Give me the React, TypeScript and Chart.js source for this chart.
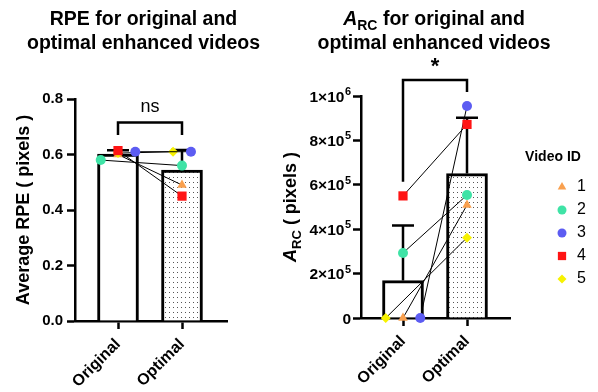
import React, { useEffect, useRef } from 'react';
import { Chart, registerables } from 'chart.js';
import { drawPoint } from 'chart.js/helpers';

Chart.register(...registerables);

const FONT = '"Liberation Sans", Arial, Helvetica, sans-serif';

// ---------- data ----------
const categories = ['Original', 'Optimal'];
const videoIds = ['1', '2', '3', '4', '5'];
const videoColors = ['#F9A04E', '#3FE3A6', '#5C5CF2', '#FF1414', '#F7F200'];
const videoStyles = ['triangle', 'circle', 'circle', 'rect', 'rectRot'];
const videoRadius = [5.5, 5, 5, 6.5, 5];

// Average RPE (pixels)
const rpeOriginal = [0.60, 0.58, 0.61, 0.614, 0.605];
const rpeOptimal = [0.49, 0.56, 0.61, 0.45, 0.61];
const rpeJitterOriginal = [0, -0.27, 0.27, 0, 0];
const rpeJitterOptimal = [0, 0, 0.14, 0, -0.14];
const rpeTicks = [0, 0.2, 0.4, 0.6, 0.8];
const rpeTickLabels = ['0.0', '0.2', '0.4', '0.6', '0.8'];
const rpeDrawOrder = [5, 3, 2, 1, 4];
const rpeSig = 'ns';

// A_RC (pixels)
const arcOriginal = [0, 293000, 0, 550000, 0];
const arcOptimal = [509000, 554000, 955000, 872000, 362000];
const arcJitterOriginal = [0, 0, 0.27, 0, -0.27];
const arcJitterOptimal = [0, 0, 0, 0, 0];
const arcTicks = [0, 200000, 400000, 600000, 800000, 1000000];
const arcTickLabels = ['0', '2×10', '4×10', '6×10', '8×10', '1×10'];
const arcTickExponents = ['', '5', '5', '5', '5', '6'];
const arcDrawOrder = [5, 4, 3, 2, 1];
const arcSig = '*';

// ---------- helpers ----------
const mean = (a: number[]) => a.reduce((s, v) => s + v, 0) / a.length;
const sd = (a: number[]) => {
  const m = mean(a);
  return Math.sqrt(a.reduce((s, v) => s + (v - m) * (v - m), 0) / (a.length - 1));
};

type Part = { text: string; italic?: boolean; sub?: boolean };

function drawParts(ctx: CanvasRenderingContext2D, parts: Part[], cx: number, cy: number, size: number) {
  const fonts = parts.map(
    (p) => `${p.italic ? 'italic ' : ''}bold ${p.sub ? Math.round(size * 0.72) : size}px ${FONT}`
  );
  let total = 0;
  const widths = parts.map((p, i) => {
    ctx.font = fonts[i];
    const w = ctx.measureText(p.text).width;
    total += w;
    return w;
  });
  let x = cx - total / 2;
  ctx.textAlign = 'left';
  ctx.textBaseline = 'alphabetic';
  const base = cy + size * 0.36;
  parts.forEach((p, i) => {
    ctx.font = fonts[i];
    ctx.fillText(p.text, x, base + (p.sub ? size * 0.24 : 0));
    x += widths[i];
  });
}

interface Panel {
  orig: number[];
  opt: number[];
  jo: number[];
  jp: number[];
  ticks: number[];
  tickLabels: string[];
  tickExponents?: string[];
  drawOrder: number[];
  title: Part[][];
  yTitle: Part[];
  sig: string;
  sigY: number;
  bracketY: number;
  dropL: number;
  dropR: number;
  legend: boolean;
  // layout (pixels)
  canvasW: number;
  areaLeft: number;
  areaRight: number;
  areaTop: number;
  areaBottom: number;
  xLeftGap: number;
  xRightGap: number;
  titleX: number;
  yTitleX: number;
  tickPad: number;
}

function makeChart(canvas: HTMLCanvasElement, p: Panel) {
  const pc = document.createElement('canvas');
  pc.width = 4;
  pc.height = 5;
  const pctx = pc.getContext('2d')!;
  pctx.fillStyle = '#ffffff';
  pctx.fillRect(0, 0, 4, 5);
  pctx.fillStyle = '#555555';
  pctx.fillRect(1, 2, 1, 1);
  const pattern = canvas.getContext('2d')!.createPattern(pc, 'repeat');

  const means = [mean(p.orig), mean(p.opt)];
  const sds = [sd(p.orig), sd(p.opt)];
  const H = 392;
  const customTicks = !!p.tickExponents;

  const decor = {
    id: 'decor',
    afterDatasetDraw(chart: any, args: any) {
      if (args.index !== 0) return;
      const ctx = chart.ctx as CanvasRenderingContext2D;
      const xs = chart.scales.x;
      const ys = chart.scales.y;
      ctx.save();
      ctx.strokeStyle = '#000';
      ctx.lineWidth = 2.5;
      means.forEach((m, i) => {
        const x = xs.getPixelForValue(i);
        const yT = ys.getPixelForValue(m + sds[i]);
        const yM = ys.getPixelForValue(m);
        ctx.beginPath();
        ctx.moveTo(x, yM);
        ctx.lineTo(x, yT);
        ctx.moveTo(x - 11, yT);
        ctx.lineTo(x + 11, yT);
        ctx.stroke();
      });
      ctx.restore();
    },
    afterDraw(chart: any) {
      const ctx = chart.ctx as CanvasRenderingContext2D;
      const xs = chart.scales.x;
      const ys = chart.scales.y;
      ctx.save();
      ctx.fillStyle = '#000';
      // custom y tick labels with superscript exponents
      if (customTicks) {
        const right = chart.chartArea.left - 8 - p.tickPad;
        p.ticks.forEach((v, i) => {
          const y = ys.getPixelForValue(v);
          const exp = p.tickExponents![i];
          ctx.textBaseline = 'alphabetic';
          ctx.textAlign = 'right';
          let x = right;
          if (exp) {
            ctx.font = `bold 11px ${FONT}`;
            ctx.fillText(exp, x, y - 1);
            x -= ctx.measureText(exp).width + 0.5;
          }
          ctx.font = `bold 15.5px ${FONT}`;
          ctx.fillText(p.tickLabels[i], x, y + 5.5);
        });
      }
      // title
      p.title.forEach((line, i) => drawParts(ctx, line, p.titleX, 18 + i * 24, 19.5));
      // y title
      ctx.save();
      ctx.translate(p.yTitleX, (p.areaTop + p.areaBottom) / 2);
      ctx.rotate(-Math.PI / 2);
      drawParts(ctx, p.yTitle, 0, 0, 18);
      ctx.restore();
      // bracket
      const xL = xs.getPixelForValue(0);
      const xR = xs.getPixelForValue(1);
      ctx.strokeStyle = '#000';
      ctx.lineWidth = 2.5;
      ctx.beginPath();
      ctx.moveTo(xL, ys.getPixelForValue(p.dropL));
      ctx.lineTo(xL, ys.getPixelForValue(p.bracketY));
      ctx.lineTo(xR, ys.getPixelForValue(p.bracketY));
      ctx.lineTo(xR, ys.getPixelForValue(p.dropR));
      ctx.stroke();
      const star = p.sig === '*';
      const size = star ? 22 : 18;
      ctx.font = `${star ? 'bold ' : ''}${size}px ${FONT}`;
      ctx.textAlign = 'center';
      ctx.textBaseline = 'alphabetic';
      ctx.fillText(p.sig, (xL + xR) / 2, ys.getPixelForValue(p.sigY) + (star ? 0.58 : 0.26) * size);
      // legend
      if (p.legend) {
        const lx = p.areaRight + 43;
        ctx.font = `bold 14px ${FONT}`;
        ctx.textAlign = 'center';
        ctx.textBaseline = 'middle';
        ctx.fillText('Video ID', lx, 157);
        videoIds.forEach((id, i) => {
          const y = 187 + i * 23;
          ctx.fillStyle = videoColors[i];
          ctx.strokeStyle = videoColors[i];
          drawPoint(ctx, { pointStyle: videoStyles[i] as any, radius: videoRadius[i] * 0.9, rotation: 0, borderWidth: 0 }, lx + 9, y);
          ctx.fillStyle = '#000';
          ctx.font = `16px ${FONT}`;
          ctx.textAlign = 'left';
          ctx.fillText(id, lx + 24, y);
        });
      }
      ctx.restore();
    },
  };

  const xmin = -p.xLeftGap;
  const xmax = 1 + p.xRightGap;

  const gridOpts = {
    display: true,
    offset: false,
    drawOnChartArea: false,
    drawTicks: true,
    tickLength: 8,
    tickWidth: 2.5,
    tickColor: '#000',
  };
  const borderOpts = { display: true, color: '#000', width: 2.5 };

  return new Chart(canvas, {
    type: 'bar',
    data: {
      datasets: [
        {
          type: 'bar',
          data: means.map((m, i) => ({ x: i, y: m })) as any,
          backgroundColor: ['#ffffff', pattern as any],
          borderColor: '#000',
          borderWidth: 3,
          barThickness: 41,
          borderSkipped: 'start',
          order: 100,
        } as any,
        ...videoIds.map((id, i) => ({
          type: 'scatter',
          label: id,
          data: [
            { x: 0 + p.jo[i], y: p.orig[i] },
            { x: 1 + p.jp[i], y: p.opt[i] },
          ],
          showLine: true,
          borderColor: '#000',
          borderWidth: 1,
          pointStyle: videoStyles[i],
          pointRadius: videoRadius[i],
          pointBackgroundColor: videoColors[i],
          pointBorderColor: videoColors[i],
          pointBorderWidth: 0,
          order: p.drawOrder[i],
          clip: false,
        })) as any,
      ],
    },
    options: {
      animation: false,
      responsive: false,
      devicePixelRatio: 1,
      events: [],
      layout: {
        padding: { left: 0, top: p.areaTop, right: p.canvasW - p.areaRight, bottom: 0 },
      },
      plugins: {
        legend: { display: false },
        tooltip: { enabled: false },
        title: { display: false },
      },
      scales: {
        x: {
          type: 'linear',
          min: xmin,
          max: xmax,
          offset: false,
          afterBuildTicks: (s: any) => {
            s.ticks = categories.map((_, i) => ({ value: i }));
          },
          afterFit: (s: any) => {
            s.height = H - p.areaBottom;
          },
          grid: gridOpts,
          border: borderOpts,
          ticks: {
            color: '#000',
            font: { family: FONT, size: 16, weight: 'bold' },
            minRotation: 45,
            maxRotation: 45,
            autoSkip: false,
            padding: 6,
            callback: (v: any) => categories[Math.round(v)] ?? '',
          },
        },
        y: {
          type: 'linear',
          min: p.ticks[0],
          max: p.ticks[p.ticks.length - 1],
          afterBuildTicks: (s: any) => {
            s.ticks = p.ticks.map((v) => ({ value: v }));
          },
          afterFit: (s: any) => {
            s.width = p.areaLeft;
          },
          grid: gridOpts,
          border: borderOpts,
          ticks: {
            color: '#000',
            font: { family: FONT, size: 15, weight: 'bold' },
            padding: p.tickPad,
            callback: (_v: any, i: number) => (customTicks ? '' : p.tickLabels[i]),
          },
        },
      } as any,
    },
    plugins: [decor],
  });
}

const leftPanel: Panel = {
  orig: rpeOriginal,
  opt: rpeOptimal,
  jo: rpeJitterOriginal,
  jp: rpeJitterOptimal,
  ticks: rpeTicks,
  tickLabels: rpeTickLabels,
  drawOrder: rpeDrawOrder,
  title: [[{ text: 'RPE for original and' }], [{ text: 'optimal enhanced videos' }]],
  yTitle: [{ text: 'Average RPE ( pixels )' }],
  sig: rpeSig,
  sigY: 0.77,
  bracketY: 0.715,
  dropL: 0.67,
  dropR: 0.67,
  legend: false,
  canvasW: 300,
  areaLeft: 75,
  areaRight: 227,
  areaTop: 99,
  areaBottom: 321,
  xLeftGap: 43 / 64,
  xRightGap: 45 / 64,
  titleX: 143.5,
  yTitleX: 23,
  tickPad: 4,
};

const RIGHT_OFF = 260;
const rightPanel: Panel = {
  orig: arcOriginal,
  opt: arcOptimal,
  jo: arcJitterOriginal,
  jp: arcJitterOptimal,
  ticks: arcTicks,
  tickLabels: arcTickLabels,
  tickExponents: arcTickExponents,
  drawOrder: arcDrawOrder,
  title: [
    [{ text: 'A', italic: true }, { text: 'RC', sub: true }, { text: ' for original and' }],
    [{ text: 'optimal enhanced videos' }],
  ],
  yTitle: [{ text: 'A', italic: true }, { text: 'RC', sub: true }, { text: ' ( pixels )' }],
  sig: arcSig,
  sigY: 1160000,
  bracketY: 1072000,
  dropL: 614000,
  dropR: 1018000,
  legend: true,
  canvasW: 338,
  areaLeft: 361 - RIGHT_OFF,
  areaRight: 510 - RIGHT_OFF,
  areaTop: 96,
  areaBottom: 318,
  xLeftGap: 42 / 64,
  xRightGap: 43 / 64,
  titleX: 434 - RIGHT_OFF,
  yTitleX: 290 - RIGHT_OFF,
  tickPad: 2,
};

function PanelCanvas({ panel, left }: { panel: Panel; left: number }) {
  const ref = useRef<HTMLCanvasElement>(null);
  useEffect(() => {
    if (!ref.current) return;
    const chart = makeChart(ref.current, panel);
    return () => chart.destroy();
  }, [panel]);
  return (
    <canvas
      ref={ref}
      width={panel.canvasW}
      height={392}
      style={{ position: 'absolute', left, top: 0, width: panel.canvasW, height: 392 }}
    />
  );
}

export default function App() {
  return (
    <div style={{ position: 'absolute', left: 0, top: 0, width: 598, height: 392, background: '#fff', overflow: 'hidden' }}>
      <PanelCanvas panel={leftPanel} left={0} />
      <PanelCanvas panel={rightPanel} left={RIGHT_OFF} />
    </div>
  );
}
